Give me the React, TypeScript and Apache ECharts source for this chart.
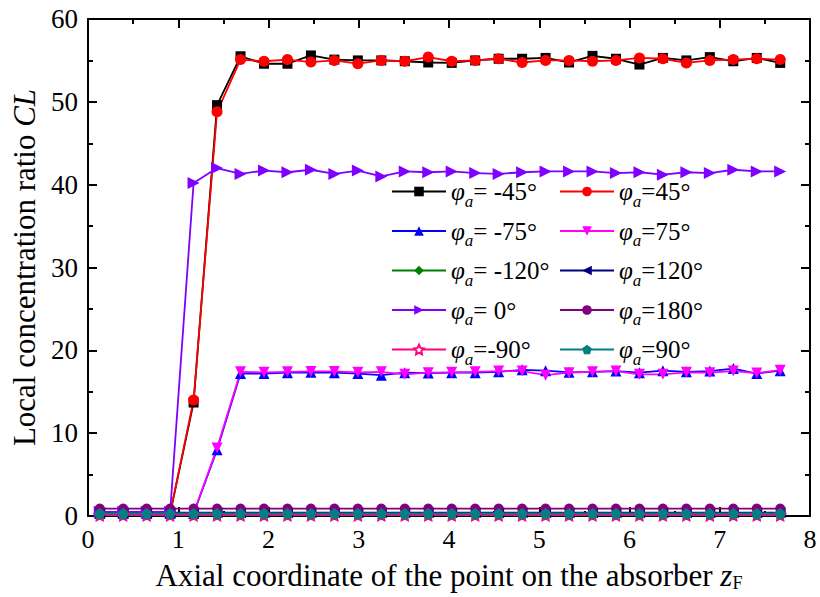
import React, { useEffect, useRef } from 'react';
import * as echarts from 'echarts';

const FONT = 'Liberation Serif';

// Axial positions z_F of the sampled points
const zPositions = [0.13, 0.39, 0.65, 0.91, 1.17, 1.43, 1.69, 1.95, 2.21, 2.47, 2.73, 2.99, 3.25, 3.51, 3.77,
  4.03, 4.29, 4.55, 4.81, 5.07, 5.33, 5.59, 5.85, 6.11, 6.37, 6.63, 6.89, 7.15, 7.41, 7.67];

const cl_m45 = [0.3, 0.3, 0.3, 0.3, 13.7, 49.6, 55.5, 54.6, 54.6, 55.6, 55.1, 55.0, 55.0, 54.9, 54.75,
  54.7, 55.0, 55.2, 55.2, 55.3, 54.75, 55.55, 55.2, 54.5, 55.3, 55.0, 55.4, 54.9, 55.3, 54.7];
const cl_p45 = [0.3, 0.3, 0.3, 0.3, 14.0, 48.8, 55.1, 54.9, 55.1, 54.8, 55.0, 54.6, 55.0, 54.9, 55.4,
  54.9, 55.0, 55.2, 54.75, 55.0, 55.0, 54.9, 55.0, 55.3, 55.2, 54.7, 55.0, 55.1, 55.2, 55.1];
const cl_m75 = [0.3, 0.3, 0.3, 0.3, 0.3, 8.0, 17.2, 17.2, 17.3, 17.35, 17.3, 17.2, 17.0, 17.3, 17.25,
  17.3, 17.3, 17.4, 17.65, 17.55, 17.35, 17.4, 17.5, 17.3, 17.55, 17.4, 17.5, 17.8, 17.2, 17.55];
const cl_p75 = [0.3, 0.3, 0.3, 0.3, 0.3, 8.2, 17.4, 17.35, 17.4, 17.45, 17.45, 17.35, 17.4, 17.1, 17.3,
  17.35, 17.4, 17.5, 17.5, 17.0, 17.3, 17.4, 17.5, 17.1, 17.1, 17.35, 17.3, 17.5, 17.25, 17.6];
const cl_m120 = [0.15, 0.15, 0.15, 0.15, 0.15, 0.15, 0.15, 0.15, 0.15, 0.15, 0.15, 0.15, 0.15, 0.15, 0.15,
  0.15, 0.15, 0.15, 0.15, 0.15, 0.15, 0.15, 0.15, 0.15, 0.15, 0.15, 0.15, 0.15, 0.15, 0.15];
const cl_p120 = [0.4, 0.4, 0.4, 0.4, 0.4, 0.4, 0.4, 0.4, 0.4, 0.4, 0.4, 0.4, 0.4, 0.4, 0.4,
  0.4, 0.4, 0.4, 0.4, 0.4, 0.4, 0.4, 0.4, 0.4, 0.4, 0.4, 0.4, 0.4, 0.4, 0.4];
const cl_0 = [0.5, 0.5, 0.5, 0.5, 40.2, 42.0, 41.3, 41.7, 41.5, 41.8, 41.3, 41.7, 41.0, 41.6, 41.5,
  41.6, 41.4, 41.3, 41.5, 41.6, 41.6, 41.6, 41.4, 41.5, 41.2, 41.5, 41.4, 41.8, 41.6, 41.6];
const cl_180 = [0.9, 0.9, 0.9, 0.9, 0.9, 0.9, 0.9, 0.9, 0.9, 0.9, 0.9, 0.9, 0.9, 0.9, 0.9,
  0.9, 0.9, 0.9, 0.9, 0.9, 0.9, 0.9, 0.9, 0.9, 0.9, 0.9, 0.9, 0.9, 0.9, 0.9];
const cl_m90 = [0.1, 0.1, 0.1, 0.1, 0.1, 0.1, 0.1, 0.1, 0.1, 0.1, 0.1, 0.1, 0.1, 0.1, 0.1,
  0.1, 0.1, 0.1, 0.1, 0.1, 0.1, 0.1, 0.1, 0.1, 0.1, 0.1, 0.1, 0.1, 0.1, 0.1];
const cl_p90 = [0.3, 0.3, 0.3, 0.3, 0.3, 0.3, 0.3, 0.3, 0.3, 0.3, 0.3, 0.3, 0.3, 0.3, 0.3,
  0.3, 0.3, 0.3, 0.3, 0.3, 0.3, 0.3, 0.3, 0.3, 0.3, 0.3, 0.3, 0.3, 0.3, 0.3];

// Legend labels: text after "φa"
const labelLeft = ['= -45°', '= -75°', '= -120°', '= 0°', '=-90°'];
const labelRight = ['=45°', '=75°', '=120°', '=180°', '=90°'];

const xTicks = [0, 1, 2, 3, 4, 5, 6, 7, 8];
const yTicks = [0, 10, 20, 30, 40, 50, 60];

const STAR = 'path://M0,-10L2.9,-4L9.5,-3.1L4.7,1.6L5.9,8.1L0,5L-5.9,8.1L-4.7,1.6L-9.5,-3.1L-2.9,-4Z';
const PENTA = 'path://M0,-10L9.5,-3.1L5.9,8.1L-5.9,8.1L-9.5,-3.1Z';

const seriesDefs = [
  { key: 'L0', values: cl_m45, color: '#000000', symbol: 'rect', size: 10, rotate: 0 },
  { key: 'R0', values: cl_p45, color: '#ff0000', symbol: 'circle', size: 11, rotate: 0 },
  { key: 'L1', values: cl_m75, color: '#0000ff', symbol: 'triangle', size: 11, rotate: 0 },
  { key: 'R1', values: cl_p75, color: '#ff00ff', symbol: 'triangle', size: 11, rotate: 180 },
  { key: 'L2', values: cl_m120, color: '#008000', symbol: 'diamond', size: 11, rotate: 0 },
  { key: 'R2', values: cl_p120, color: '#000080', symbol: 'triangle', size: 11, rotate: 90 },
  { key: 'L3', values: cl_0, color: '#8000ff', symbol: 'triangle', size: 12, rotate: -90 },
  { key: 'R3', values: cl_180, color: '#800080', symbol: 'circle', size: 10, rotate: 0 },
  { key: 'L4', values: cl_m90, color: '#ff0080', symbol: STAR, size: 11, rotate: 0, hollow: true },
  { key: 'R4', values: cl_p90, color: '#008080', symbol: PENTA, size: 11, rotate: 0 },
];

const labelOf = (key: string) => {
  const idx = Number(key.slice(1));
  return key[0] === 'L' ? labelLeft[idx] : labelRight[idx];
};

const legendRich = {
  p: { fontFamily: FONT, fontStyle: 'italic', fontSize: 25, color: '#000', lineHeight: 36 },
  s: { fontFamily: FONT, fontStyle: 'italic', fontSize: 17, color: '#000', verticalAlign: 'bottom', lineHeight: 14 },
  t: { fontFamily: FONT, fontStyle: 'normal', fontSize: 25, color: '#000', lineHeight: 36 },
};

export default function App() {
  const ref = useRef<HTMLDivElement>(null);
  useEffect(() => {
    if (!ref.current) return;
    const chart = echarts.init(ref.current, undefined, { renderer: 'svg' });

    const series = seriesDefs.map((d) => ({
      name: d.key,
      type: 'line',
      data: zPositions.map((z, i) => [z, d.values[i]]),
      symbol: d.symbol,
      symbolSize: d.size,
      symbolRotate: d.rotate,
      showAllSymbol: true,
      lineStyle: { color: d.color, width: 1.8 },
      itemStyle: d.hollow
        ? { color: '#ffffff', borderColor: d.color, borderWidth: 1.5 }
        : { color: d.color, borderWidth: 0 },
      emphasis: { disabled: true },
    }));

    const axisCommon = {
      axisLine: { show: true, onZero: false, lineStyle: { color: '#000', width: 2 } },
      axisTick: { show: true, inside: true, length: 9, lineStyle: { color: '#000', width: 2 } },
      minorTick: { show: true, splitNumber: 2, length: 5, lineStyle: { color: '#000', width: 2 } },
      splitLine: { show: false },
    };

    const legendBase = {
      orient: 'vertical',
      itemWidth: 54,
      itemHeight: 12,
      itemGap: 9,
      top: 174,
      formatter: (name: string) => `{p|φ}{s|a}{t|${labelOf(name)}}`,
      textStyle: { fontFamily: FONT, fontSize: 25, color: '#000', rich: legendRich },
      selectedMode: false,
    };

    chart.setOption({
      animation: false,
      backgroundColor: '#ffffff',
      textStyle: { fontFamily: FONT },
      grid: { left: 88, right: 10, top: 19, bottom: 81, containLabel: false },
      legend: [
        { ...legendBase, left: 386, data: ['L0', 'L1', 'L2', 'L3', 'L4'] },
        { ...legendBase, left: 554, data: ['R0', 'R1', 'R2', 'R3', 'R4'] },
      ],
      xAxis: [
        {
          type: 'value',
          min: xTicks[0],
          max: xTicks[xTicks.length - 1],
          interval: 1,
          ...axisCommon,
          axisLabel: {
            margin: 10,
            formatter: (v: number) => `{v|${v}}`,
            rich: { v: { fontFamily: FONT, fontSize: 26, color: '#000' } },
          },
          name: '{n|Axial coordinate of the point on the absorber }{i|z}{s|F}',
          nameLocation: 'middle',
          nameGap: 42,
          nameTextStyle: {
            rich: {
              n: { fontFamily: FONT, fontSize: 31, color: '#000', lineHeight: 34 },
              i: { fontFamily: FONT, fontSize: 31, fontStyle: 'italic', color: '#000', lineHeight: 34 },
              s: { fontFamily: FONT, fontSize: 18, color: '#000', verticalAlign: 'bottom', lineHeight: 16 },
            },
          },
        },
        {
          type: 'value',
          position: 'top',
          min: xTicks[0],
          max: xTicks[xTicks.length - 1],
          interval: 1,
          ...axisCommon,
          axisLabel: { show: false },
        },
      ],
      yAxis: [
        {
          type: 'value',
          min: yTicks[0],
          max: yTicks[yTicks.length - 1],
          interval: 10,
          ...axisCommon,
          axisLabel: {
            margin: 10,
            formatter: (v: number) => `{v|${v}}`,
            rich: { v: { fontFamily: FONT, fontSize: 27, color: '#000' } },
          },
          name: '{n|Local concentration ratio }{i|CL}',
          nameLocation: 'middle',
          nameRotate: 90,
          nameGap: 48,
          nameTextStyle: {
            rich: {
              n: { fontFamily: FONT, fontSize: 31, color: '#000' },
              i: { fontFamily: FONT, fontSize: 31, fontStyle: 'italic', color: '#000' },
            },
          },
        },
        {
          type: 'value',
          position: 'right',
          min: yTicks[0],
          max: yTicks[yTicks.length - 1],
          interval: 10,
          ...axisCommon,
          axisLabel: { show: false },
        },
      ],
      series,
    });
    return () => chart.dispose();
  }, []);
  return <div ref={ref} style={{ position: 'fixed', left: 0, top: 0, width: 820, height: 597 }} />;
}
